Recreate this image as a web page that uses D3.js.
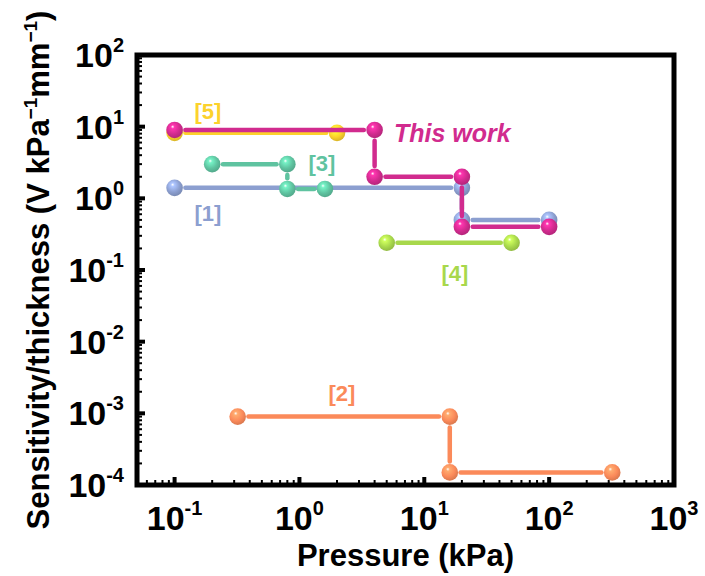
<!DOCTYPE html>
<html>
<head>
<meta charset="utf-8">
<script src="https://cdn.jsdelivr.net/npm/d3@7"></script>
<style>
  body { margin: 0; background: #fff; }
  svg text { font-family: "Liberation Sans", Arial, sans-serif; font-weight: bold; }
</style>
</head>
<body>
<svg id="chart" width="705" height="576"></svg>
<script>
// values (pressure kPa, sensitivity/thickness)
const ref1X = [0.1, 20, 20, 100];
const ref1Y = [1.4, 1.4, 0.5, 0.5];
const ref5X = [0.1, 2];
const ref5Y = [8.2, 8.2];
const ref3X = [0.2, 0.8, 0.8, 1.6];
const ref3Y = [3, 3, 1.35, 1.35];
const ref4X = [5, 50];
const ref4Y = [0.24, 0.24];
const ref2X = [0.32, 16, 16, 320];
const ref2Y = [9e-4, 9e-4, 1.5e-4, 1.5e-4];
const workX = [0.1, 4, 4, 20, 20, 100];
const workY = [9, 9, 2, 2, 0.4, 0.4];

const xTickVals = [0.1, 1, 10, 100, 1000];
const xTickExp = ["-1", "0", "1", "2", "3"];
const yTickVals = [1e2, 1e1, 1, 1e-1, 1e-2, 1e-3, 1e-4];
const yTickExp = ["2", "1", "0", "-1", "-2", "-3", "-4"];

// series drawn in this order (last one on top)
const series = [
    { name: "[1]", xs: ref1X, ys: ref1Y, color: "#8c9fd0", lx: 208, ly: 221 },
    { name: "[5]", xs: ref5X, ys: ref5Y, color: "#fcd22c", lx: 208, ly: 119 },
    { name: "[3]", xs: ref3X, ys: ref3Y, color: "#5fc3a0", lx: 322, ly: 171 },
    { name: "[4]", xs: ref4X, ys: ref4Y, color: "#a8d84c", lx: 455, ly: 281 },
    { name: "[2]", xs: ref2X, ys: ref2Y, color: "#fb8a5a", lx: 342, ly: 401 },
    { name: "This work", xs: workX, ys: workY, color: "#d12b8e", lx: 394, ly: 142, italic: true }
];

const svg = d3.select("#chart");
const pL = 137, pR = 674, pT = 55, pB = 485;

const x = d3.scaleLog().domain([0.05, 1000]).range([pL, pR]);
const y = d3.scaleLog().domain([1e-4, 1e2]).range([pB, pT]);

// ball gradients
const defs = svg.append("defs");
series.forEach((s, i) => {
    const c = d3.color(s.color);
    const g = defs.append("radialGradient")
        .attr("id", "ball" + i)
        .attr("cx", "42%").attr("cy", "38%").attr("r", "62%")
        .attr("fx", "38%").attr("fy", "30%");
    g.append("stop").attr("offset", "0%").attr("stop-color", "#ffffff");
    g.append("stop").attr("offset", "18%").attr("stop-color", c.brighter(0.6));
    g.append("stop").attr("offset", "65%").attr("stop-color", s.color);
    g.append("stop").attr("offset", "100%").attr("stop-color", c.darker(0.4));
});

// ticks (inward, left + bottom only)
const isMajor = v => Math.abs(Math.log10(v) - Math.round(Math.log10(v))) < 1e-6;
const tickG = svg.append("g");
x.ticks().filter(v => v > 0.05 && v < 1000).forEach(v => {
    const maj = isMajor(v);
    tickG.append("line")
        .attr("x1", x(v)).attr("x2", x(v))
        .attr("y1", pB).attr("y2", pB - (maj ? 8 : 5))
        .attr("stroke", "#000").attr("stroke-width", maj ? 4 : 2);
});
y.ticks().filter(v => v > 1e-4 && v < 1e2).forEach(v => {
    const maj = isMajor(v);
    tickG.append("line")
        .attr("x1", pL).attr("x2", pL + (maj ? 8 : 5))
        .attr("y1", y(v)).attr("y2", y(v))
        .attr("stroke", "#000").attr("stroke-width", maj ? 4 : 2);
});

// frame
svg.append("rect")
    .attr("x", pL).attr("y", pT)
    .attr("width", pR - pL).attr("height", pB - pT)
    .attr("fill", "none").attr("stroke", "#000").attr("stroke-width", 5);

// tick labels
xTickVals.forEach((v, i) => {
    const t = svg.append("text")
        .attr("x", x(v)).attr("y", 530)
        .attr("text-anchor", "middle")
        .attr("font-size", 34);
    t.append("tspan").text("10");
    t.append("tspan").attr("dy", -15).attr("font-size", 20).text(xTickExp[i]);
});
yTickVals.forEach((v, i) => {
    const t = svg.append("text")
        .attr("x", 124).attr("y", y(v) + 12)
        .attr("text-anchor", "end")
        .attr("font-size", 34);
    t.append("tspan").text("10");
    t.append("tspan").attr("dy", -15).attr("font-size", 20).text(yTickExp[i]);
});

// axis titles
svg.append("text")
    .attr("x", (pL + pR) / 2).attr("y", 566)
    .attr("text-anchor", "middle")
    .attr("font-size", 31)
    .text("Pressure (kPa)");

const yt = svg.append("text")
    .attr("transform", "translate(49,270) rotate(-90)")
    .attr("text-anchor", "middle")
    .attr("font-size", 31);
yt.append("tspan").text("Sensitivity/thickness (V kPa");
yt.append("tspan").attr("dy", -12).attr("font-size", 19).text("\u22121");
yt.append("tspan").attr("dy", 12).text("mm");
yt.append("tspan").attr("dy", -12).attr("font-size", 19).text("\u22121");
yt.append("tspan").attr("dy", 12).text(")");

// series: segments with small gaps at the balls, then the balls
const r = 8.3, gap = 2.5;
series.forEach((s, i) => {
    const pts = s.xs.map((v, k) => [x(v), y(s.ys[k])]);
    const g = svg.append("g");
    d3.pairs(pts).forEach(([a, b]) => {
        const dx = b[0] - a[0], dy = b[1] - a[1];
        const len = Math.hypot(dx, dy);
        const cut = r + gap;
        if (len <= 2 * cut) return;
        const ux = dx / len, uy = dy / len;
        g.append("line")
            .attr("x1", a[0] + ux * cut).attr("y1", a[1] + uy * cut)
            .attr("x2", b[0] - ux * cut).attr("y2", b[1] - uy * cut)
            .attr("stroke", s.color).attr("stroke-width", 4.5)
            .attr("stroke-linecap", "round");
    });
    g.selectAll("circle")
        .data(pts)
        .join("circle")
        .attr("cx", d => d[0]).attr("cy", d => d[1])
        .attr("r", r)
        .attr("fill", `url(#ball${i})`);
});

// series labels
series.forEach(s => {
    svg.append("text")
        .attr("x", s.lx).attr("y", s.ly)
        .attr("text-anchor", s.italic ? "start" : "middle")
        .attr("font-size", s.italic ? 25 : 22)
        .attr("font-style", s.italic ? "italic" : null)
        .attr("fill", s.color)
        .text(s.name);
});
</script>
</body>
</html>
